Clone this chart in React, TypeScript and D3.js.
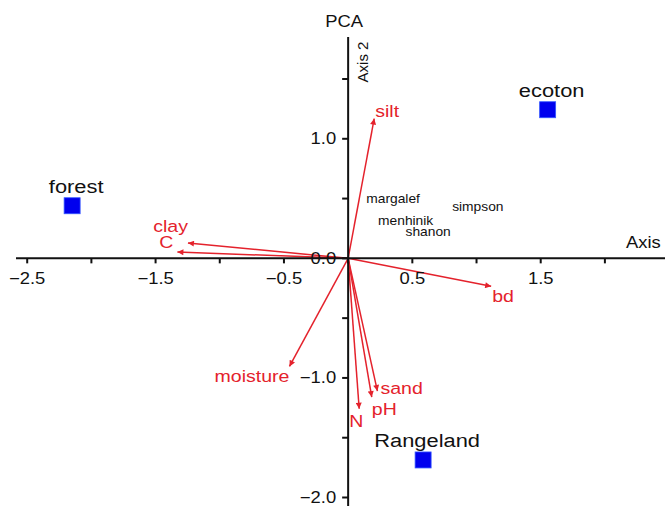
import React from 'react'
import * as d3 from 'd3'

// sites (blue squares)
const siteNames = ['forest', 'ecoton', 'Rangeland']
const siteX = [-2.15, 1.554, 0.584]
const siteY = [0.44, 1.243, -1.686]

// environmental vectors (red arrows)
const varNames = ['silt', 'clay', 'C', 'bd', 'moisture', 'N', 'pH', 'sand']
const varX = [0.203, -1.248, -1.33, 1.114, -0.457, 0.086, 0.184, 0.228]
const varY = [1.169, 0.128, 0.053, -0.234, -0.904, -1.258, -1.16, -1.11]

// diversity indices (black text)
const indexNames = ['margalef', 'simpson', 'menhinik', 'shanon']
const indexX = [0.35, 1.01, 0.448, 0.623]
const indexY = [0.50, 0.435, 0.31, 0.218]

const xTicks = [-2.5, -2, -1.5, -1, -0.5, 0, 0.5, 1, 1.5, 2]
const xTickLabels = [-2.5, -1.5, -0.5, 0.5, 1.5]
const yTicks = [-2, -1.5, -1, -0.5, 0, 0.5, 1, 1.5]
const yTickLabels = [-2, -1, 0, 1]

// label placement for the arrows: [anchor, dx, dy]
const varLabelPos: [string, number, number][] = [
  ['start', 1, -2],
  ['end', 0, -11],
  ['end', -4, -4],
  ['start', 1, 16],
  ['end', 0, 16],
  ['middle', -3, 18],
  ['start', 0, 18],
  ['start', 3, 3],
]

const W = 665
const H = 506
const RED = '#e4222c'
const FONT = '"Liberation Sans", Arial, sans-serif'
const SX = 1.15 // the source picture is a bit stretched horizontally

function T({ x, y, size, fill = '#111', anchor = 'start', baseline, children }: any) {
  return (
    <text
      transform={`translate(${x},${y}) scale(${SX},1)`}
      fontSize={size}
      fill={fill}
      textAnchor={anchor}
      dominantBaseline={baseline}
      fontFamily={FONT}
    >
      {children}
    </text>
  )
}

export default function App() {
  const x = d3.scaleLinear().domain([-2.5, 2]).range([27.2, 604.9])
  const y = d3.scaleLinear().domain([-2, 1.5]).range([497.5, 79])
  const x0 = x(0)
  const y0 = y(0)

  return (
    <svg width={W} height={H} style={{ position: 'absolute', left: 0, top: 0, background: '#fff' }}>
      <defs>
        <marker id="ah" viewBox="0 0 10 10" refX="10" refY="5" markerWidth="8" markerHeight="6"
          markerUnits="userSpaceOnUse" orient="auto">
          <path d="M0,0 L10,5 L0,10 z" fill={RED} />
        </marker>
      </defs>

      {/* arrows */}
      {varNames.map((n, i) => (
        <line key={n} x1={x0} y1={y0} x2={x(varX[i])} y2={y(varY[i])}
          stroke={RED} strokeWidth={1.5} markerEnd="url(#ah)" />
      ))}
      {varNames.map((n, i) => {
        const [a, dx, dy] = varLabelPos[i]
        return (
          <T key={n} x={x(varX[i]) + dx} y={y(varY[i]) + dy} size={17} fill={RED} anchor={a}>{n}</T>
        )
      })}

      {/* axes */}
      <line x1={16} x2={W} y1={y0} y2={y0} stroke="#111" strokeWidth={2} />
      <line x1={x0} x2={x0} y1={37} y2={H} stroke="#111" strokeWidth={2} />
      {xTicks.map(t => (
        <line key={t} x1={x(t)} x2={x(t)} y1={y0} y2={y0 + 5} stroke="#111" strokeWidth={2} />
      ))}
      {yTicks.map(t => (
        <line key={t} x1={x0 - 6} x2={x0} y1={y(t)} y2={y(t)} stroke="#111" strokeWidth={2} />
      ))}
      {xTickLabels.map(t => (
        <T key={t} x={x(t)} y={y0 + 26} size={16} anchor="middle">{d3.format('.1f')(t)}</T>
      ))}
      {yTickLabels.map(t => (
        <T key={t} x={x0 - 12} y={y(t)} size={16} anchor="end" baseline="central">{d3.format('.1f')(t)}</T>
      ))}

      <T x={x0 - 4} y={27} size={16} anchor="middle">PCA</T>
      <text transform={`translate(${x0 + 20},62) rotate(-90)`} fontSize={15} fontFamily={FONT}
        textAnchor="middle" fill="#111">Axis 2</text>
      <T x={626} y={y0 - 10} size={16}>Axis</T>

      {/* diversity indices */}
      {indexNames.map((n, i) => (
        <T key={n} x={x(indexX[i])} y={y(indexY[i])} size={12} anchor="middle" baseline="central">{n}</T>
      ))}

      {/* sites */}
      {siteNames.map((n, i) => (
        <g key={n}>
          <rect x={x(siteX[i]) - 8} y={y(siteY[i]) - 8} width={16} height={16} fill="#0000ee"
            stroke="#3355ff" strokeWidth={0.8} />
          <T x={x(siteX[i]) + 4} y={y(siteY[i]) - 13} size={19} anchor="middle">{n}</T>
        </g>
      ))}
    </svg>
  )
}
